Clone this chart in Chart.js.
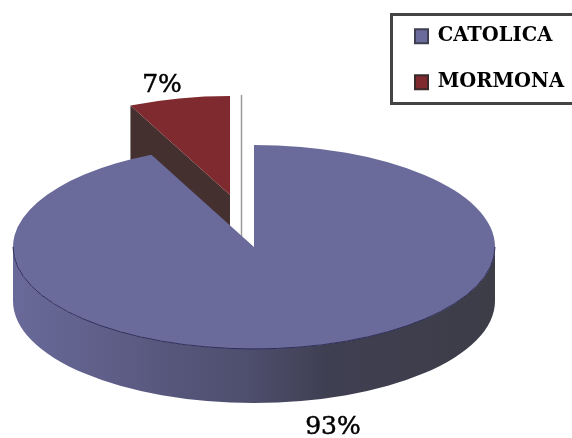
<!DOCTYPE html>
<html>
<head>
<meta charset="utf-8">
<style>
html, body { margin: 0; padding: 0; background: #fff; }
canvas { display: block; }
</style>
<script src="https://cdn.jsdelivr.net/npm/chart.js@4/dist/chart.umd.min.js"></script>
</head>
<body>
<canvas id="pie" width="572" height="438"></canvas>
<script>
const categories = ["CATOLICA", "MORMONA"];
const shares = [93, 7];
const shareLabels = ["93%", "7%"];
const sliceColors = ["#6b6b9b", "#7f2a2e"];
const boxEdges = ["#3f3f52", "#3a2a2a"];

const serif = '"DejaVu Serif", serif';
const center = { x: 254, y: 247 };
const squash = 0.423;
const depth = 54;
const labelSpots = [{ x: 333, y: 427 }, { x: 162, y: 85 }];
const sliceMoves = [{ x: 0, y: 0, k: 1 }, { x: -24, y: -52, k: 0.97 }];

// the library only knows flat pies, so tilt each arc and add the walls here
const tiltedPie = {
    id: "tiltedPie",
    afterLayout(chart) {
        chart.legend.left = 388.5;
        chart.legend.right = 572;
        chart.legend.top = 0;
    },
    beforeDraw(chart) {
        const ctx = chart.ctx;
        ctx.save();
        ctx.strokeStyle = "#444444";
        ctx.lineWidth = 3;
        ctx.strokeRect(391.5, 14.5, 190, 89);
        ctx.restore();
    },
    beforeDatasetsDraw(chart) {
        const ctx = chart.ctx;
        const arcs = chart.getDatasetMeta(0).data;
        const blue = arcs[0];
        const red = arcs[1];
        const r = blue.outerRadius;

        // thin grey line left in the gap
        ctx.strokeStyle = "#9a9a9a";
        ctx.lineWidth = 1.5;
        ctx.beginPath();
        ctx.moveTo(241.5, 95);
        ctx.lineTo(241.5, 238);
        ctx.stroke();

        // wall of the pulled out slice
        const m = sliceMoves[1];
        const ax = center.x + m.x;
        const ay = center.y + m.y;
        const cornerX = ax + r * m.k * Math.cos(red.startAngle);
        const cornerY = ay + r * m.k * squash * Math.sin(red.startAngle);
        ctx.fillStyle = "#43302f";
        ctx.beginPath();
        ctx.moveTo(ax, ay);
        ctx.lineTo(cornerX, cornerY);
        ctx.lineTo(cornerX, cornerY + depth);
        ctx.lineTo(ax, ay + depth);
        ctx.closePath();
        ctx.fill();
        drawArc(ctx, red, m);

        // rim of the big slice
        const rim = ctx.createLinearGradient(center.x - r, 0, center.x + r, 0);
        rim.addColorStop(0, "#6a6a9a");
        rim.addColorStop(0.2, "#5e5e88");
        rim.addColorStop(0.5, "#4d4d6c");
        rim.addColorStop(0.65, "#3f3f52");
        rim.addColorStop(1, "#3d3d48");
        ctx.fillStyle = rim;
        ctx.beginPath();
        ctx.ellipse(center.x, center.y, r, r * squash, 0, 0, Math.PI);
        ctx.ellipse(center.x, center.y + depth, r, r * squash, 0, Math.PI, 0, true);
        ctx.closePath();
        ctx.fill();

        drawArc(ctx, blue, sliceMoves[0]);

        // dark seam along the front of the top face
        ctx.strokeStyle = "#2c2c58";
        ctx.lineWidth = 1;
        ctx.beginPath();
        ctx.ellipse(center.x, center.y, r, r * squash, 0, 0, Math.PI);
        ctx.stroke();

        // percent labels
        ctx.fillStyle = "#000";
        ctx.strokeStyle = "#000";
        ctx.lineWidth = 0.5;
        ctx.font = "25px " + serif;
        ctx.textAlign = "center";
        ctx.textBaseline = "middle";
        shareLabels.forEach((text, i) => {
            ctx.fillText(text, labelSpots[i].x, labelSpots[i].y);
            ctx.strokeText(text, labelSpots[i].x, labelSpots[i].y);
        });
        return false;
    }
};

function drawArc(ctx, arc, move) {
    ctx.save();
    ctx.translate(center.x + move.x, center.y + move.y);
    ctx.scale(move.k, move.k * squash);
    ctx.translate(-arc.x, -arc.y);
    arc.draw(ctx);
    ctx.restore();
}

new Chart(document.getElementById("pie"), {
    type: "pie",
    data: {
        labels: categories,
        datasets: [{
            data: shares,
            backgroundColor: sliceColors,
            borderWidth: 0
        }]
    },
    options: {
        responsive: false,
        animation: false,
        radius: 241,
        plugins: {
            tooltip: { enabled: false },
            legend: {
                position: "right",
                align: "start",
                labels: {
                    color: "#000",
                    boxWidth: 13,
                    boxHeight: 14,
                    padding: 26.5,
                    font: { family: serif, size: 19.5, weight: "bold" },
                    generateLabels(chart) {
                        const items = Chart.overrides.pie.plugins.legend.labels.generateLabels(chart);
                        items.forEach((item, i) => {
                            item.strokeStyle = boxEdges[i];
                            item.lineWidth = 2;
                        });
                        return items;
                    }
                }
            }
        }
    },
    plugins: [tiltedPie]
});
</script>
</body>
</html>
